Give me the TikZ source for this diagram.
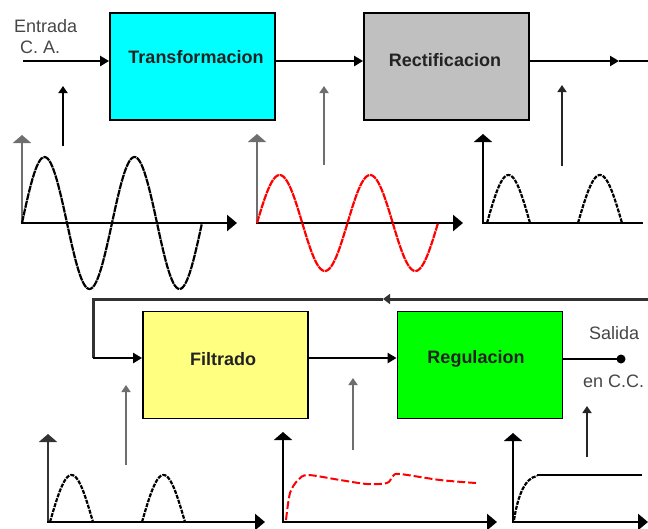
\documentclass[tikz,border=0pt]{standalone}
\usepackage{fontspec}
\setmainfont{Liberation Sans}
\usetikzlibrary{arrows.meta}
\definecolor{cyanbox}{RGB}{0,255,255}
\definecolor{graybox}{RGB}{192,192,192}
\definecolor{yellowbox}{RGB}{255,255,128}
\definecolor{greenbox}{RGB}{0,255,0}
\definecolor{txtdark}{RGB}{35,35,35}
\definecolor{txtgray}{RGB}{70,70,70}
\definecolor{fbgray}{RGB}{50,50,50}
\definecolor{axgray}{RGB}{110,110,110}
\definecolor{redcurve}{RGB}{255,0,0}
\begin{document}
\begin{tikzpicture}[x=1pt,y=-1pt,
  block/.style={draw=black, line width=1.8pt, minimum width=165pt, minimum height=107pt, inner sep=0pt},
  lbl/.style={font=\fontsize{18}{20}\selectfont\bfseries, text=txtdark, inner sep=0pt, anchor=base},
  note/.style={font=\fontsize{18}{20}\selectfont, text=txtgray, inner sep=0pt, anchor=base west},
  flow/.style={line width=2.4pt, draw=black, -{Triangle[width=10pt,length=9pt]}},
  plainline/.style={line width=2.4pt, draw=black},
  fb/.style={line width=3pt, draw=fbgray},
  uparrow/.style={line width=2pt, -{Triangle[width=9pt,length=7pt]}},
  vaxis/.style={line width=2.4pt, -{Triangle[width=18pt,length=8pt]}},
  haxis/.style={line width=2.6pt, -{Triangle[width=16pt,length=10pt]}},
  curve/.style={line width=2.2pt, dash pattern=on 7pt off 0.8pt},
  hump/.style={line width=2.2pt, dash pattern=on 4pt off 1.2pt},
]
\useasboundingbox (0,0) rectangle (648,528);

% ---------- blocks ----------
\node[block, fill=cyanbox] (tr) at (192.5,66.5) {};
\node[block, fill=graybox] (re) at (446.5,66.5) {};
\node[block, fill=yellowbox] (fi) at (225.5,365) {};
\node[block, fill=greenbox] (rg) at (480,365) {};

\node[lbl] (trl) at (196,63) {Transformacion};
\node[lbl] (rel) at (445,66) {Rectificacion};
\node[lbl] (fil) at (223,365) {Filtrado};
\node[lbl] (rgl) at (476,363) {Regulacion};

\node[note] (ent) at (14,32) {Entrada};
\node[note] (ca) at (20,53) {C. A.};
\node[note] (sal) at (589,339) {Salida};
\node[note] (ecc) at (583,387) {en C.C.};

% ---------- main flow ----------
\coordinate (in) at (23,61);
\coordinate (mid1) at (619,61);
\coordinate (out) at (648,61);
\draw[flow] (in) -- (in -| tr.west);
\draw[flow] (tr.east |- in) -- (re.west |- in);
\draw[flow] (re.east |- in) -- (mid1);
\draw[plainline] (mid1) -- (out);

% feedback line
\coordinate (fbR) at (648,299);
\coordinate (fbM) at (383,299);
\coordinate (fbL) at (93,299);
\coordinate (fbD) at (93,358);
\draw[fb, -{Triangle[width=10pt,length=7pt]}] (fbR) -- (fbM);
\draw[fb] (fbM) -- (fbL) -- (fbD);
\draw[flow] (fbD) -- (fbD -| fi.west);

\coordinate (mrow) at (0,358);
\draw[flow] (fi.east |- mrow) -- (rg.west |- mrow);
\coordinate (dot) at (621,359);
\draw[plainline] (rg.east |- dot) -- (dot);
\fill[black] (dot) circle (4.5);

% ---------- small up arrows ----------
\coordinate (u1a) at (63,146); \coordinate (u1b) at (63,86);
\coordinate (u2a) at (324,165); \coordinate (u2b) at (324,86);
\coordinate (u3a) at (562,166); \coordinate (u3b) at (562,85);
\coordinate (u4a) at (126,465); \coordinate (u4b) at (126,385);
\coordinate (u5a) at (353,450); \coordinate (u5b) at (353,378);
\coordinate (u6a) at (587,457); \coordinate (u6b) at (587,406);
\draw[uparrow, black] (u1a) -- (u1b);
\draw[uparrow, axgray] (u2a) -- (u2b);
\draw[uparrow, black!85] (u3a) -- (u3b);
\draw[uparrow, axgray] (u4a) -- (u4b);
\draw[uparrow, axgray] (u5a) -- (u5b);
\draw[uparrow, black!85] (u6a) -- (u6b);

% ---------- graph 1: AC input ----------
\draw[vaxis, axgray] (22,224) -- (22,135);
\draw[haxis, black] (21,223) -- (237,223);
\draw[curve, black] plot[domain=0:180, samples=120] ({22+\x},{223-66*sin(4*\x)});

% ---------- graph 2: transformed AC ----------
\draw[vaxis, axgray] (257,224) -- (257,134);
\draw[haxis, black] (256,223) -- (463,223);
\draw[curve, redcurve] plot[domain=0:181, samples=120] ({257+\x},{223-48*sin(3.978*\x)});

% ---------- graph 3: rectified ----------
\draw[vaxis, black] (483,224) -- (483,134);
\draw[line width=2.6pt, black] (482,223) -- (643,223);
\draw[hump, black] plot[domain=0:180, samples=60] ({487+43*\x/180},{223-48*sin(\x)});
\draw[hump, black] plot[domain=0:180, samples=60] ({578+44*\x/180},{223-48*sin(\x)});

% ---------- graph 4: rectified (filter input) ----------
\draw[vaxis, black!80] (48,523) -- (48,434);
\draw[haxis, black] (47,522) -- (265,522);
\draw[hump, black] plot[domain=0:180, samples=60] ({50+43*\x/180},{522-47*sin(\x)});
\draw[hump, black] plot[domain=0:180, samples=60] ({142+43*\x/180},{522-47*sin(\x)});

% ---------- graph 5: filtered ----------
\draw[vaxis, black] (283,523) -- (283,432);
\draw[haxis, black] (282,522) -- (497,522);
\draw[line width=2pt, redcurve, dash pattern=on 8pt off 3pt]
  plot[smooth, tension=0.5] coordinates {(286,520) (290,493) (298,480) (308,475) (340,480) (367,484) (387,483) (393,476) (400,474) (440,480) (476,483)};

% ---------- graph 6: regulated ----------
\draw[vaxis, black] (513,523) -- (513,433);
\draw[haxis, black] (512,522) -- (648,522);
\draw[hump, black] (514,520) .. controls (518,495) and (525,478) .. (537,476);
\draw[line width=2.2pt, black] (537,475) -- (642,475);
\end{tikzpicture}
\end{document}
